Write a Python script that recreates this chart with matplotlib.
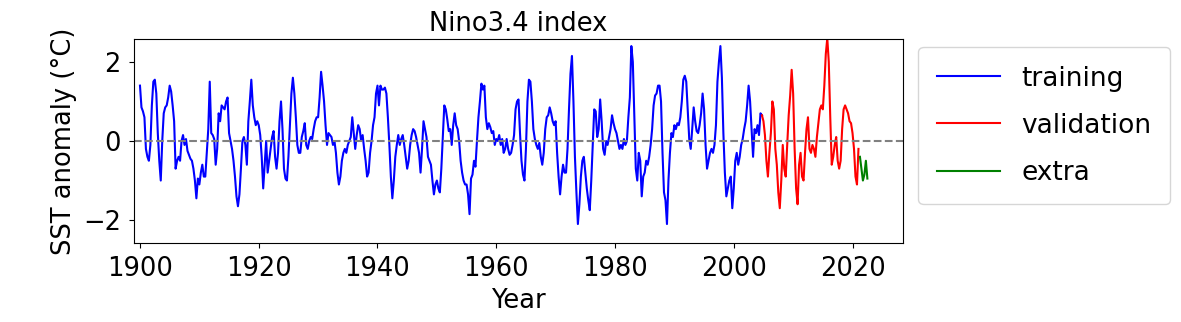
import numpy as np
import matplotlib
matplotlib.use("Agg")
import matplotlib.pyplot as plt

# Nino3.4 SST anomaly at quarterly steps (4 values per year)
train_start = 1900.0
train_vals = [
    1.4, 0.85, 0.75, 0.6,      # 1900
    -0.2, -0.4, -0.5, -0.1,
    0.9, 1.5, 1.55, 1.2,
    0.2, -0.5, -1.0, 0.0,
    0.7, 0.85, 0.9, 1.1,
    1.4, 1.25, 0.9, 0.5,
    -0.7, -0.5, -0.4, -0.5,
    0.0, 0.15, -0.1, 0.05,
    -0.25, -0.35, -0.45, -0.5,
    -0.7, -1.0, -1.45, -0.95,
    -1.1, -0.8, -0.6, -0.9,    # 1910
    -0.9, -0.3, 0.3, 1.5,
    0.2, 0.15, 0.05, -0.6,
    -0.2, 0.7, 0.5, 0.9,
    0.85, 0.8, 1.0, 1.1,
    0.2, 0.0, -0.2, -0.5,
    -0.9, -1.4, -1.65, -1.35,
    -0.7, 0.0, 0.1, -0.1,
    -0.6, 0.5, 1.0, 1.55,
    0.9, 0.6, 0.4, 0.5,
    0.4, 0.15, -0.4, -1.2,     # 1920
    -0.6, 0.0, -0.8, -0.5,
    -0.2, 0.1, 0.25, -0.4,
    -0.7, -0.3, 0.5, 1.0,
    0.3, -0.7, -0.95, -1.0,
    -0.4, 0.4, 1.2, 1.6,
    1.2, 0.6, -0.1, -0.3,
    -0.3, 0.1, 0.25, 0.45,
    -0.1, -0.2, 0.0, 0.1,
    0.05, 0.3, 0.5, 0.6,
    0.6, 1.1, 1.75, 1.4,       # 1930
    1.0, 0.4, -0.1, 0.2,
    0.15, 0.1, -0.1, 0.0,
    -0.3, -0.8, -1.1, -0.9,
    -0.5, -0.3, -0.2, -0.3,
    -0.1, 0.0, 0.1, 0.6,
    0.2, -0.2, 0.15, 0.4,
    0.3, 0.0, 0.15, -0.2,
    -0.5, -0.9, -0.8, -0.3,
    0.0, 0.4, 0.6, 1.2,
    1.4, 0.9, 1.4, 1.3,        # 1940
    1.3, 1.35, 1.2, 0.6,
    -0.1, -0.9, -1.45, -1.0,
    -0.4, -0.1, 0.15, -0.1,
    0.05, 0.15, -0.1, -0.4,
    -0.7, -0.5, -0.1, 0.15,
    0.3, 0.25, 0.1, -0.1,
    -0.3, -0.8, -0.2, 0.5,
    0.3, 0.1, -0.4, -0.5,
    -0.6, -1.0, -1.35, -1.1,
    -1.0, -1.2, -1.3, -0.7,    # 1950
    0.1, 0.9, 0.8, 0.55,
    0.25, 0.3, -0.1, 0.4,
    0.7, 0.4, 0.3, 0.0,
    -0.5, -0.8, -1.0, -1.1,
    -1.1, -1.35, -1.85, -0.95,
    -0.85, -0.5, -0.65, 0.0,
    0.6, 1.0, 1.45, 1.3,
    1.4, 0.6, 0.3, 0.45,
    0.35, 0.2, 0.25, -0.1,
    0.05, 0.0, 0.15, -0.1,     # 1960
    0.05, -0.3, -0.2, 0.05,
    -0.2, -0.35, -0.3, -0.1,
    0.15, 0.8, 1.0, 1.05,
    0.2, -0.5, -0.85, -1.0,
    -0.2, 1.0, 1.55, 1.5,
    1.0, 0.3, 0.05, -0.1,
    -0.2, -0.05, -0.4, -0.6,
    -0.3, 0.3, 0.6, 0.65,
    0.85, 0.7, 0.5, 0.4,
    0.5, -0.3, -0.9, -1.35,    # 1970
    -0.9, -0.6, -0.8, -0.8,
    -0.2, 0.8, 1.7, 2.15,
    1.0, -0.4, -1.3, -2.1,
    -1.6, -0.9, -0.5, -0.4,
    -0.8, -1.2, -1.5, -1.75,
    -1.0, -0.1, 0.8, 0.75,
    0.1, 0.3, 1.05, 0.5,
    -0.2, -0.35, 0.0, -0.1,
    0.1, 0.3, 0.65, 0.45,
    0.3, 0.2, 0.0, -0.2,       # 1980
    -0.1, -0.2, 0.05, -0.1,
    0.0, 0.6, 1.1, 2.4,
    2.0, 0.6, -0.7, -1.0,
    -0.3, -0.5, -1.4, -0.9,
    -0.8, -0.5, -0.6, -0.4,
    -0.1, 0.3, 0.9, 1.15,
    1.2, 1.4, 1.4, 1.0,
    -0.3, -1.3, -1.5, -2.1,
    -1.0, -0.3, 0.2, 0.1,
    0.4, 0.3, 0.45, 0.4,       # 1990
    0.6, 1.0, 1.55, 1.65,
    1.5, 0.75, 0.05, -0.2,
    0.3, 0.85, 0.5, 0.25,
    0.2, 0.4, 0.7, 1.2,
    0.8, -0.1, -0.7, -0.5,
    -0.3, -0.2, -0.3, -0.1,
    0.4, 1.5, 2.0, 2.4,
    1.6, 0.2, -0.8, -1.4,
    -1.2, -1.0, -0.9, -1.7,
    -1.2, -0.5, -0.3, -0.6,    # 2000
    -0.4, -0.1, 0.05, 0.3,
    0.5, 0.9, 1.4, 1.0,
    0.3, -0.4, 0.3, 0.2,
    0.4, 0.15, 0.7, 0.65,
]

valid_start = 2004.75
valid_vals = [
    0.65,
    0.5, 0.15, -0.5, -0.9,     # 2005
    -0.3, 0.2, 1.0, 0.8,
    -0.2, -0.6, -1.3, -1.7,
    -1.0, -0.1, -0.7, -0.9,
    -0.1, 0.65, 1.15, 1.8,
    1.2, -0.2, -1.2, -1.6,     # 2010
    -0.6, -0.3, -0.9, -1.0,
    -0.3, 0.3, 0.6, -0.2,
    -0.3, -0.1, -0.2, -0.4,
    0.1, 0.45, 0.8, 0.9,
    0.8, 1.4, 2.2, 2.6,        # 2015
    2.0, 0.6, -0.6, -0.4,
    -0.1, 0.1, -0.5, -0.7,
    -0.5, 0.3, 0.8, 0.9,
    0.8, 0.7, 0.5, 0.45,
    0.2, -0.2, -0.9, -1.1,     # 2020
    -0.2,
]

extra_start = 2021.25
extra_vals = [-0.4, -0.7, -1.0, -0.85, -0.5, -0.95]

step = 0.25
t_train = train_start + step * np.arange(len(train_vals))
t_valid = valid_start + step * np.arange(len(valid_vals))
t_extra = extra_start + step * np.arange(len(extra_vals))

fig = plt.figure(figsize=(11.81, 3.22), dpi=100)
ax = fig.add_axes([0.1135, 0.2453, 0.6511, 0.6337])

ax.plot(t_train, train_vals, color="blue", lw=1.5, label="training")
ax.plot(t_valid, valid_vals, color="red", lw=1.5, label="validation")
ax.plot(t_extra, extra_vals, color="green", lw=1.5, label="extra")
ax.axhline(0, color="gray", ls="--", lw=1.5)

ax.set_xlim(1899.0, 2028.5)
ax.set_ylim(-2.58, 2.58)
ax.set_xticks([1900, 1920, 1940, 1960, 1980, 2000, 2020])
ax.set_yticks([-2, 0, 2])
ax.tick_params(labelsize=18.5, pad=6)

ax.set_title("Nino3.4 index", fontsize=18.5)
ax.set_xlabel("Year", fontsize=18.5)
ax.set_ylabel("SST anomaly (°C)", fontsize=18.5)

ax.legend(loc="upper left", bbox_to_anchor=(1.02, 0.96), borderaxespad=0,
          fontsize=19, handlelength=2.4, labelspacing=0.8, borderpad=0.7)

fig.savefig("out.png", dpi=100)
